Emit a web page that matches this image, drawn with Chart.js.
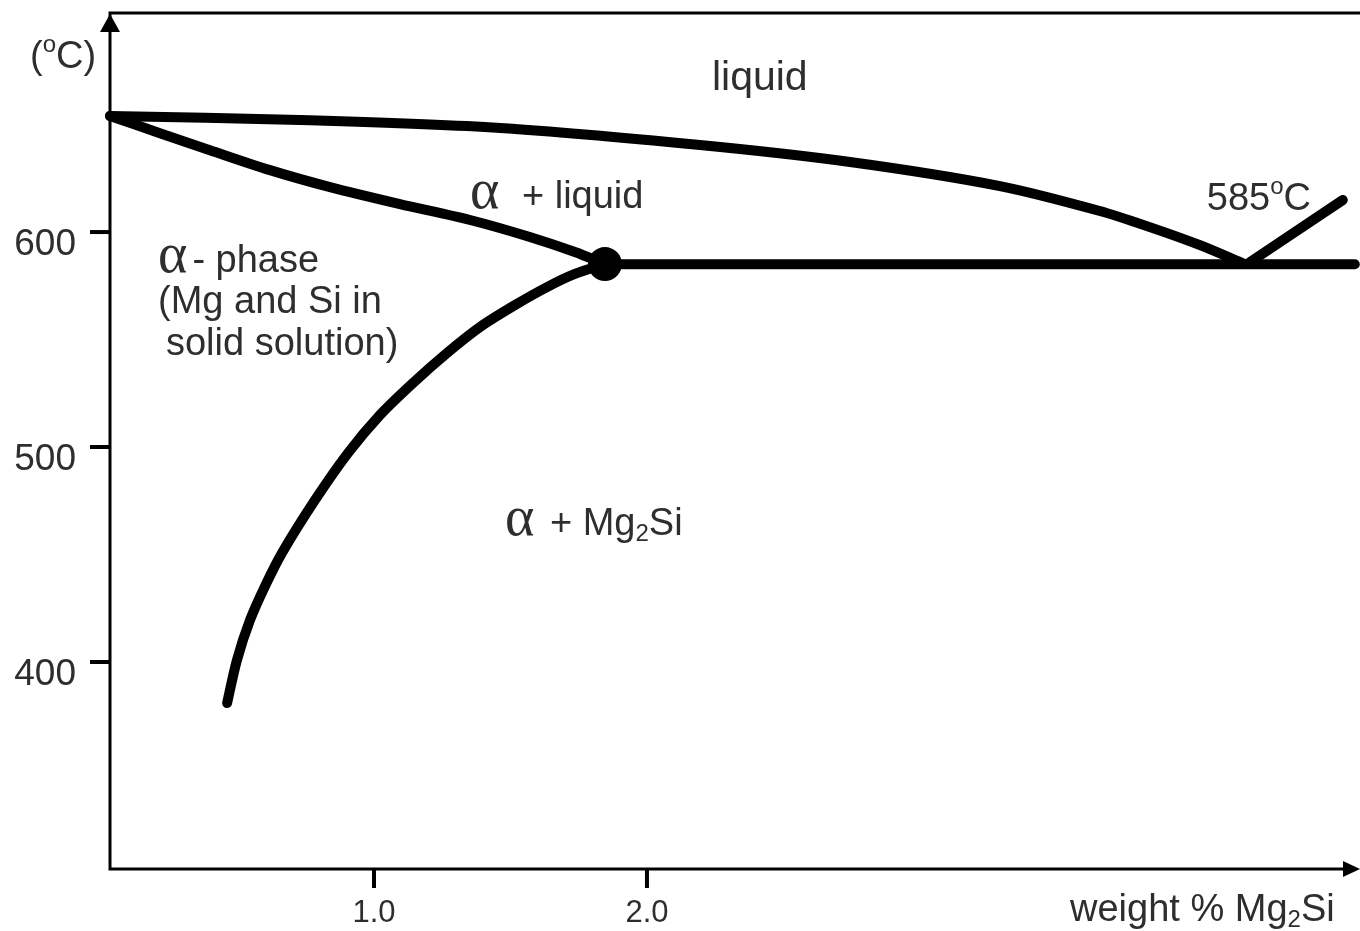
<!DOCTYPE html>
<html>
<head>
<meta charset="utf-8">
<script src="https://cdn.jsdelivr.net/npm/chart.js@4/dist/chart.umd.min.js"></script>
<style>
  body { margin: 0; background: #fff; }
  #wrap { width: 1360px; height: 931px; position: relative; }
</style>
</head>
<body>
<div id="wrap"><canvas id="phase-chart"></canvas></div>
<script>
/* Al - Mg2Si pseudo-binary phase diagram */

// axis ranges (weight % Mg2Si, deg C)
const xRange = [0.033, 4.612];
const yRange = [303.7, 701.9];

// tick values and labels
const xTicks = [1.0, 2.0];
const xTickLabels = ['1.0', '2.0'];
const yTicks = [600, 500, 400];
const yTickLabels = ['600', '500', '400'];

// liquidus (upper curve)
const liquidusX = [0.033, 0.729, 1.462, 2.194, 2.744, 3.293, 3.659, 3.842, 4.026, 4.190];
const liquidusY = [654.0, 652.1, 648.4, 640.5, 632.6, 621.4, 609.8, 602.3, 593.9, 585.1];

// solidus (alpha / alpha + liquid)
const solidusX = [0.033, 0.216, 0.399, 0.619, 0.839, 1.095, 1.352, 1.571, 1.736, 1.846];
const solidusY = [654.0, 646.0, 638.1, 628.8, 620.9, 613.0, 605.6, 597.7, 590.7, 585.1];

// solvus (alpha / alpha + Mg2Si)
const solvusX = [0.462, 0.498, 0.546, 0.601, 0.663, 0.784, 0.905, 1.022, 1.143, 1.267, 1.388, 1.516, 1.634, 1.736, 1.846];
const solvusY = [380.9, 400.9, 419.5, 435.3, 450.7, 475.3, 497.2, 514.9, 529.8, 543.7, 555.8, 566.0, 574.4, 580.5, 585.1];

// eutectic isotherm
const eutecticX = [1.846, 4.593];
const eutecticY = [585.0, 585.0];

// liquidus on the Mg2Si side of the eutectic
const rightX = [4.209, 4.549];
const rightY = [586.0, 614.9];

// max solubility point
const pointX = [1.846];
const pointY = [585.1];

// region labels: [x, y] in data units (left edge, baseline)
const regionLabels = [
  { at: [2.238, 666.0], runs: [['liquid', 'big']] },
  { at: [1.352, 611.2], runs: [['α', 'greek', 12], [' + liquid', 'sans']] },
  { at: [4.051, 610.2], runs: [['585', 'sans'], ['o', 'sup'], ['C', 'sans']] },
  { at: [0.209, 581.4], runs: [['α', 'greek', 5], ['- phase', 'sans']] },
  { at: [0.209, 562.3], runs: [['(Mg and Si in', 'sans']] },
  { at: [0.238, 542.8], runs: [['solid solution)', 'sans']] },
  { at: [1.480, 459.1], runs: [['α', 'greek', 5], [' + Mg', 'sans'], ['2', 'sub'], ['Si', 'sans']] }
];

const INK = '#000';
const TEXT = '#2e2e2e';
const SANS = '"Liberation Sans", Arial, sans-serif';
const SERIF = '"Liberation Serif", "Times New Roman", serif';

const runFonts = {
  big:   { font: `41px ${SANS}`, dy: 0 },
  sans:  { font: `38px ${SANS}`, dy: 0 },
  greek: { font: `56px ${SERIF}`, dy: 0 },
  sub:   { font: `24px ${SANS}`, dy: 6 },
  sup:   { font: `24px ${SANS}`, dy: -16 }
};

function drawRuns(ctx, runs, x, y) {
  ctx.textBaseline = 'alphabetic';
  ctx.textAlign = 'left';
  ctx.fillStyle = TEXT;
  runs.forEach(([t, kind, extra]) => {
    const f = runFonts[kind];
    ctx.font = f.font;
    ctx.fillText(t, x, y + f.dy);
    x += ctx.measureText(t).width + (extra || 0);
  });
}

function pts(xs, ys) {
  return xs.map((x, i) => ({ x, y: ys[i] }));
}

function lineSet(xs, ys, tension) {
  return {
    data: pts(xs, ys),
    showLine: true,
    borderColor: INK,
    borderWidth: 10,
    borderCapStyle: 'round',
    borderJoinStyle: 'round',
    pointRadius: 0,
    tension: tension,
    clip: false
  };
}

const axesPlugin = {
  id: 'axes',
  beforeDatasetsDraw(chart) {
    const { ctx, chartArea: a, scales: { x, y } } = chart;
    ctx.save();
    ctx.strokeStyle = INK;
    ctx.fillStyle = INK;
    ctx.lineWidth = 3;
    // box: top, left, bottom
    ctx.beginPath();
    ctx.moveTo(a.right, a.top);
    ctx.lineTo(a.left, a.top);
    ctx.lineTo(a.left, a.bottom);
    ctx.lineTo(a.right - 10, a.bottom);
    ctx.stroke();
    // arrow heads
    ctx.beginPath();
    ctx.moveTo(a.left, a.top + 1);
    ctx.lineTo(a.left - 10, a.top + 19);
    ctx.lineTo(a.left + 10, a.top + 19);
    ctx.closePath();
    ctx.fill();
    ctx.beginPath();
    ctx.moveTo(a.right, a.bottom);
    ctx.lineTo(a.right - 17, a.bottom - 8);
    ctx.lineTo(a.right - 17, a.bottom + 8);
    ctx.closePath();
    ctx.fill();

    // ticks
    ctx.lineWidth = 4;
    ctx.fillStyle = TEXT;
    ctx.font = `37px ${SANS}`;
    ctx.textAlign = 'right';
    ctx.textBaseline = 'alphabetic';
    yTicks.forEach((v, i) => {
      const py = y.getPixelForValue(v);
      ctx.beginPath();
      ctx.moveTo(a.left - 20, py);
      ctx.lineTo(a.left, py);
      ctx.stroke();
      ctx.fillText(yTickLabels[i], a.left - 34, py + 23);
    });
    ctx.font = `31px ${SANS}`;
    ctx.textAlign = 'center';
    xTicks.forEach((v, i) => {
      const px = x.getPixelForValue(v);
      ctx.beginPath();
      ctx.moveTo(px, a.bottom);
      ctx.lineTo(px, a.bottom + 19);
      ctx.stroke();
      ctx.fillText(xTickLabels[i], px, a.bottom + 53);
    });

    // axis titles
    drawRuns(ctx, [['(', 'sans'], ['o', 'sup'], ['C)', 'sans']], 30, 68);
    drawRuns(ctx, [['weight % Mg', 'sans'], ['2', 'sub'], ['Si', 'sans']], 1070, a.bottom + 52);
    ctx.restore();
  },
  afterDatasetsDraw(chart) {
    const { ctx, scales: { x, y } } = chart;
    ctx.save();
    regionLabels.forEach(l => {
      drawRuns(ctx, l.runs, x.getPixelForValue(l.at[0]), y.getPixelForValue(l.at[1]));
    });
    ctx.restore();
  }
};

const ctx = document.getElementById('phase-chart').getContext('2d');
new Chart(ctx, {
  type: 'scatter',
  data: {
    datasets: [
      lineSet(liquidusX, liquidusY, 0.3),
      lineSet(solidusX, solidusY, 0.3),
      lineSet(solvusX, solvusY, 0.3),
      lineSet(eutecticX, eutecticY, 0),
      lineSet(rightX, rightY, 0),
      {
        data: pts(pointX, pointY),
        pointRadius: 17,
        pointBackgroundColor: INK,
        pointBorderWidth: 0,
        clip: false
      }
    ]
  },
  options: {
    responsive: true, maintainAspectRatio: false,
    animation: false,
    layout: { autoPadding: false, padding: { left: 110, right: 0, top: 13, bottom: 62 } },
    plugins: { legend: { display: false }, tooltip: { enabled: false } },
    scales: {
      x: { type: 'linear', min: xRange[0], max: xRange[1], display: false },
      y: { type: 'linear', min: yRange[0], max: yRange[1], display: false }
    }
  },
  plugins: [axesPlugin]
});
</script>
</body>
</html>
